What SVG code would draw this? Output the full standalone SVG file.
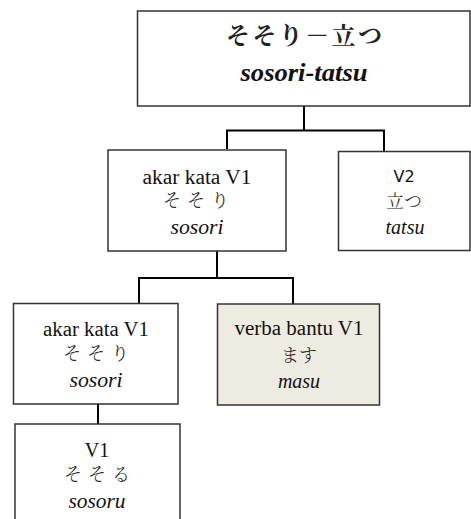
<svg xmlns="http://www.w3.org/2000/svg" width="471" height="519" viewBox="0 0 471 519">
  <style>
    .box { fill: #ffffff; stroke: #333333; stroke-width: 1.5; }
    .aux { fill: #eeebe1; }
    .wire { fill: none; stroke: #000000; stroke-width: 2; }
    .lat { font-family: "Liberation Serif", "Tinos", "Times New Roman", "DejaVu Serif", "Noto Serif", serif; font-size: 20px; fill: #111111; text-anchor: middle; }
    .it { font-style: italic; }
    .jp { font-family: "Noto Serif CJK JP", "Noto Sans CJK JP", sans-serif; font-size: 18px; font-weight: 300; fill: #222222; text-anchor: middle; }
    .sans { font-family: "DejaVu Sans", sans-serif; font-size: 16px; fill: #111111; text-anchor: middle; }
  </style>

  <g id="connectors">
    <path class="wire" d="M304 106 V130.5 M227 149 V130.5 H384 V151"/>
    <path class="wire" d="M217 251 V278 M139 303 V278 H293 V304"/>
    <path class="wire" d="M98 404 V424"/>
  </g>

  <g id="compound">
    <rect class="box" x="137.5" y="11" width="332.5" height="95"/>
    <text class="jp" x="304" y="44" style="font-size:24px;font-weight:bold" textLength="156" lengthAdjust="spacing">そそり－立つ</text>
    <text class="lat it" x="304" y="81" style="font-size:25px;font-weight:bold" textLength="127" lengthAdjust="spacingAndGlyphs">sosori-tatsu</text>
  </g>

  <g id="root-v1">
    <rect class="box" x="108" y="150" width="178" height="101"/>
    <text class="lat" x="197" y="184" textLength="109" lengthAdjust="spacingAndGlyphs">akar kata V1</text>
    <text class="jp" x="196" y="207" textLength="66" lengthAdjust="spacing">そそり</text>
    <text class="lat it" x="197" y="234" textLength="53" lengthAdjust="spacingAndGlyphs">sosori</text>
  </g>

  <g id="v2">
    <rect class="box" x="338.5" y="151.5" width="131.5" height="99"/>
    <text class="sans" x="404" y="182">V2</text>
    <text class="jp" x="404" y="208">立つ</text>
    <text class="lat it" x="405" y="234">tatsu</text>
  </g>

  <g id="root-v1-inner">
    <rect class="box" x="13.5" y="303.5" width="164.5" height="100.5"/>
    <text class="lat" x="96" y="336" textLength="106" lengthAdjust="spacingAndGlyphs">akar kata V1</text>
    <text class="jp" x="96" y="360" textLength="66" lengthAdjust="spacing">そそり</text>
    <text class="lat it" x="96" y="387" textLength="53" lengthAdjust="spacingAndGlyphs">sosori</text>
  </g>

  <g id="aux-masu">
    <rect class="box aux" x="217.5" y="304" width="162" height="101"/>
    <text class="lat" x="299" y="335" textLength="129" lengthAdjust="spacingAndGlyphs">verba bantu V1</text>
    <text class="jp" x="299" y="362">ます</text>
    <text class="lat it" x="299" y="388">masu</text>
  </g>

  <g id="v1-base">
    <rect class="box" x="15" y="424" width="165" height="110"/>
    <text class="lat" x="97" y="457">V1</text>
    <text class="jp" x="97" y="481" textLength="66" lengthAdjust="spacing">そそる</text>
    <text class="lat it" x="97" y="508" textLength="57" lengthAdjust="spacingAndGlyphs">sosoru</text>
  </g>
</svg>
